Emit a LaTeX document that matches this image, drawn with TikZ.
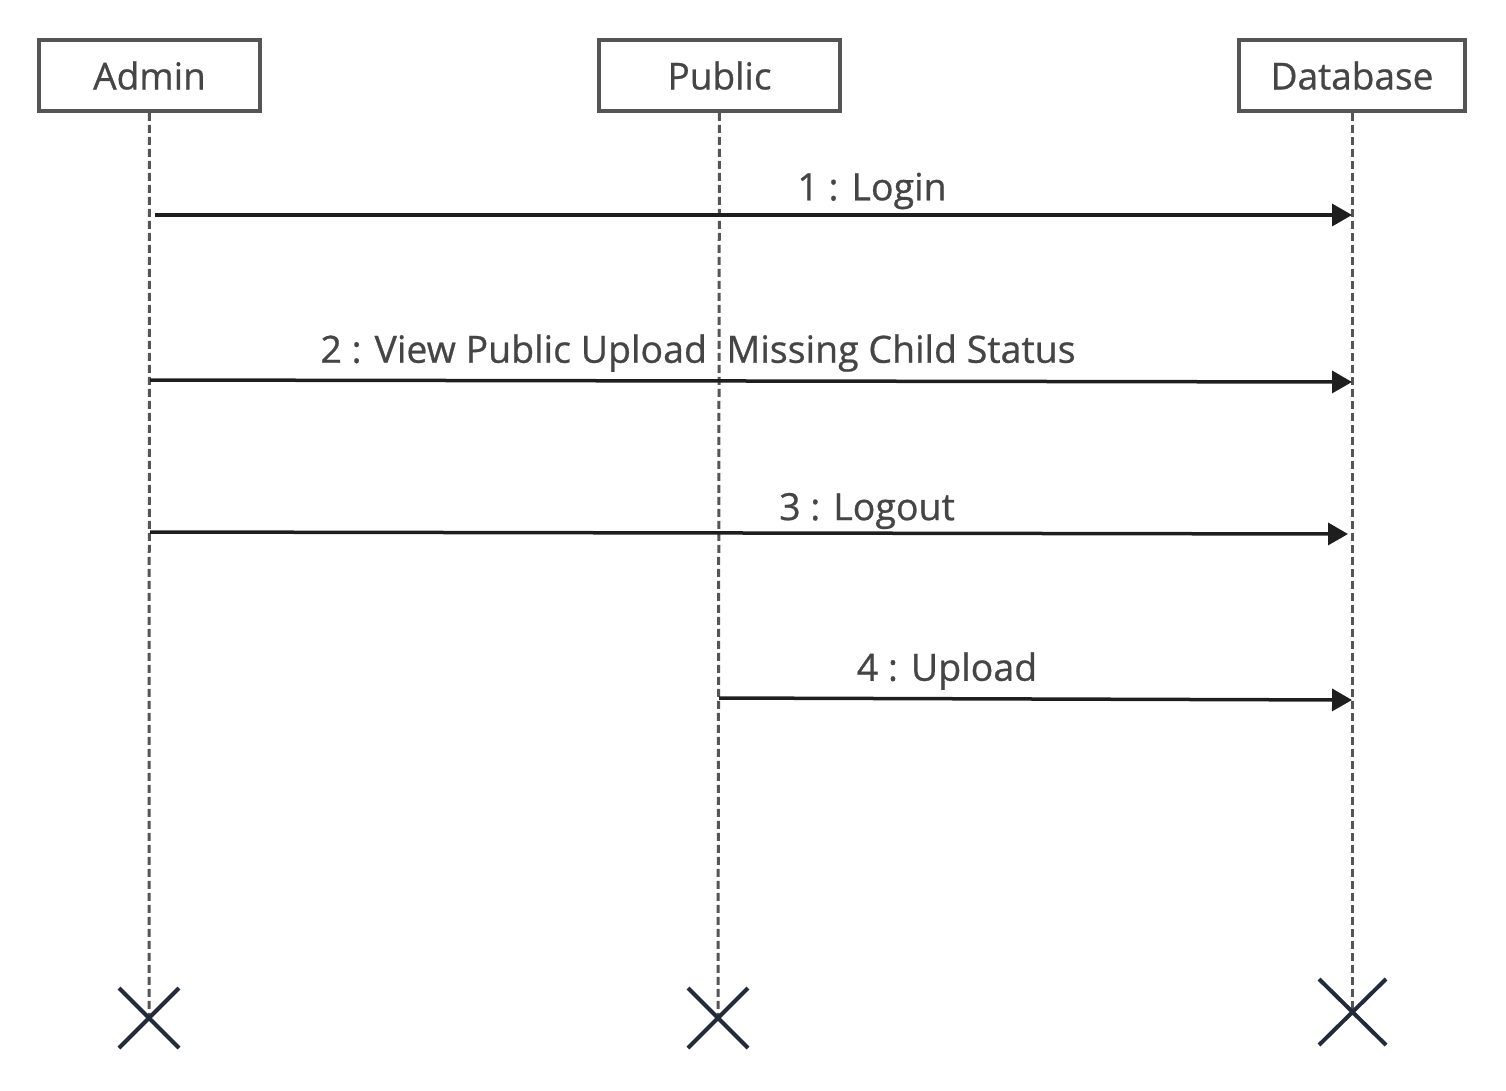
\documentclass[tikz,border=0pt]{standalone}
\usepackage{fontspec}
\setmainfont{Open Sans}[FakeBold=0.7]
\usetikzlibrary{arrows.meta}
\definecolor{boxline}{HTML}{555555}
\definecolor{txt}{HTML}{454545}
\definecolor{msgline}{HTML}{1E1E1E}
\definecolor{crossline}{HTML}{232B3A}
\begin{document}
\begin{tikzpicture}[x=1pt,y=-1pt]
\tikzset{actor/.style = {shape=rectangle,draw=boxline,line width=3.5pt,minimum height=71pt,text=txt,font=\fontsize{37}{40}\selectfont}}
\tikzset{lifeline/.style = {draw=boxline,line width=3pt,dash pattern=on 8pt off 4pt}}
\tikzset{msg/.style = {draw=msgline,line width=3.5pt,-{Triangle[length=20pt,width=22pt]}}}
\tikzset{msglabel/.style = {text=txt,font=\fontsize{37.5}{40}\selectfont,inner sep=0pt}}
\tikzset{cross/.style = {draw=crossline,line width=4pt}}
\useasboundingbox (0,0) rectangle (1506,1090);

\node[actor,minimum width=221pt] (admin) at (149.5,75.5) {Admin};
\node[actor,minimum width=241pt] (public) at (719.5,75.5) {Public};
\node[actor,minimum width=226pt] (database) at (1352,75.5) {Database};

\coordinate (adminEnd) at (149,1018);
\coordinate (publicEnd) at (718,1018);
\coordinate (databaseEnd) at (1352,1012);

\draw[lifeline] (admin) -- (adminEnd);
\draw[lifeline] (public) -- (publicEnd);
\draw[lifeline] (database) -- (databaseEnd);

% end marks
\draw[cross] (119,988) -- (179,1048) (119,1048) -- (179,988);
\draw[cross] (688,988) -- (748,1048) (688,1048) -- (748,988);
\draw[cross] (1319,979) -- (1386,1045) (1319,1045) -- (1386,979);

% messages
\coordinate (m1s) at (155,215);
\coordinate (m1e) at (1352,215);
\coordinate (m2s) at (150,380);
\coordinate (m2e) at (1352,382);
\coordinate (m3s) at (150,532);
\coordinate (m3e) at (1348,534);
\coordinate (m4s) at (719,698);
\coordinate (m4e) at (1352,700);

\draw[msg] (m1s) -- (m1e);
\draw[msg] (m2s) -- (m2e);
\draw[msg] (m3s) -- (m3e);
\draw[msg] (m4s) -- (m4e);

\node[msglabel] (l1) at (872,191) {1 : Login};
\node[msglabel] (l2) at (698,353) {2 : View Public Upload\ \ Missing Child Status};
\node[msglabel] (l3) at (867,511) {3 : Logout};
\node[msglabel] (l4) at (947,671) {4 : Upload};
\end{tikzpicture}
\end{document}
